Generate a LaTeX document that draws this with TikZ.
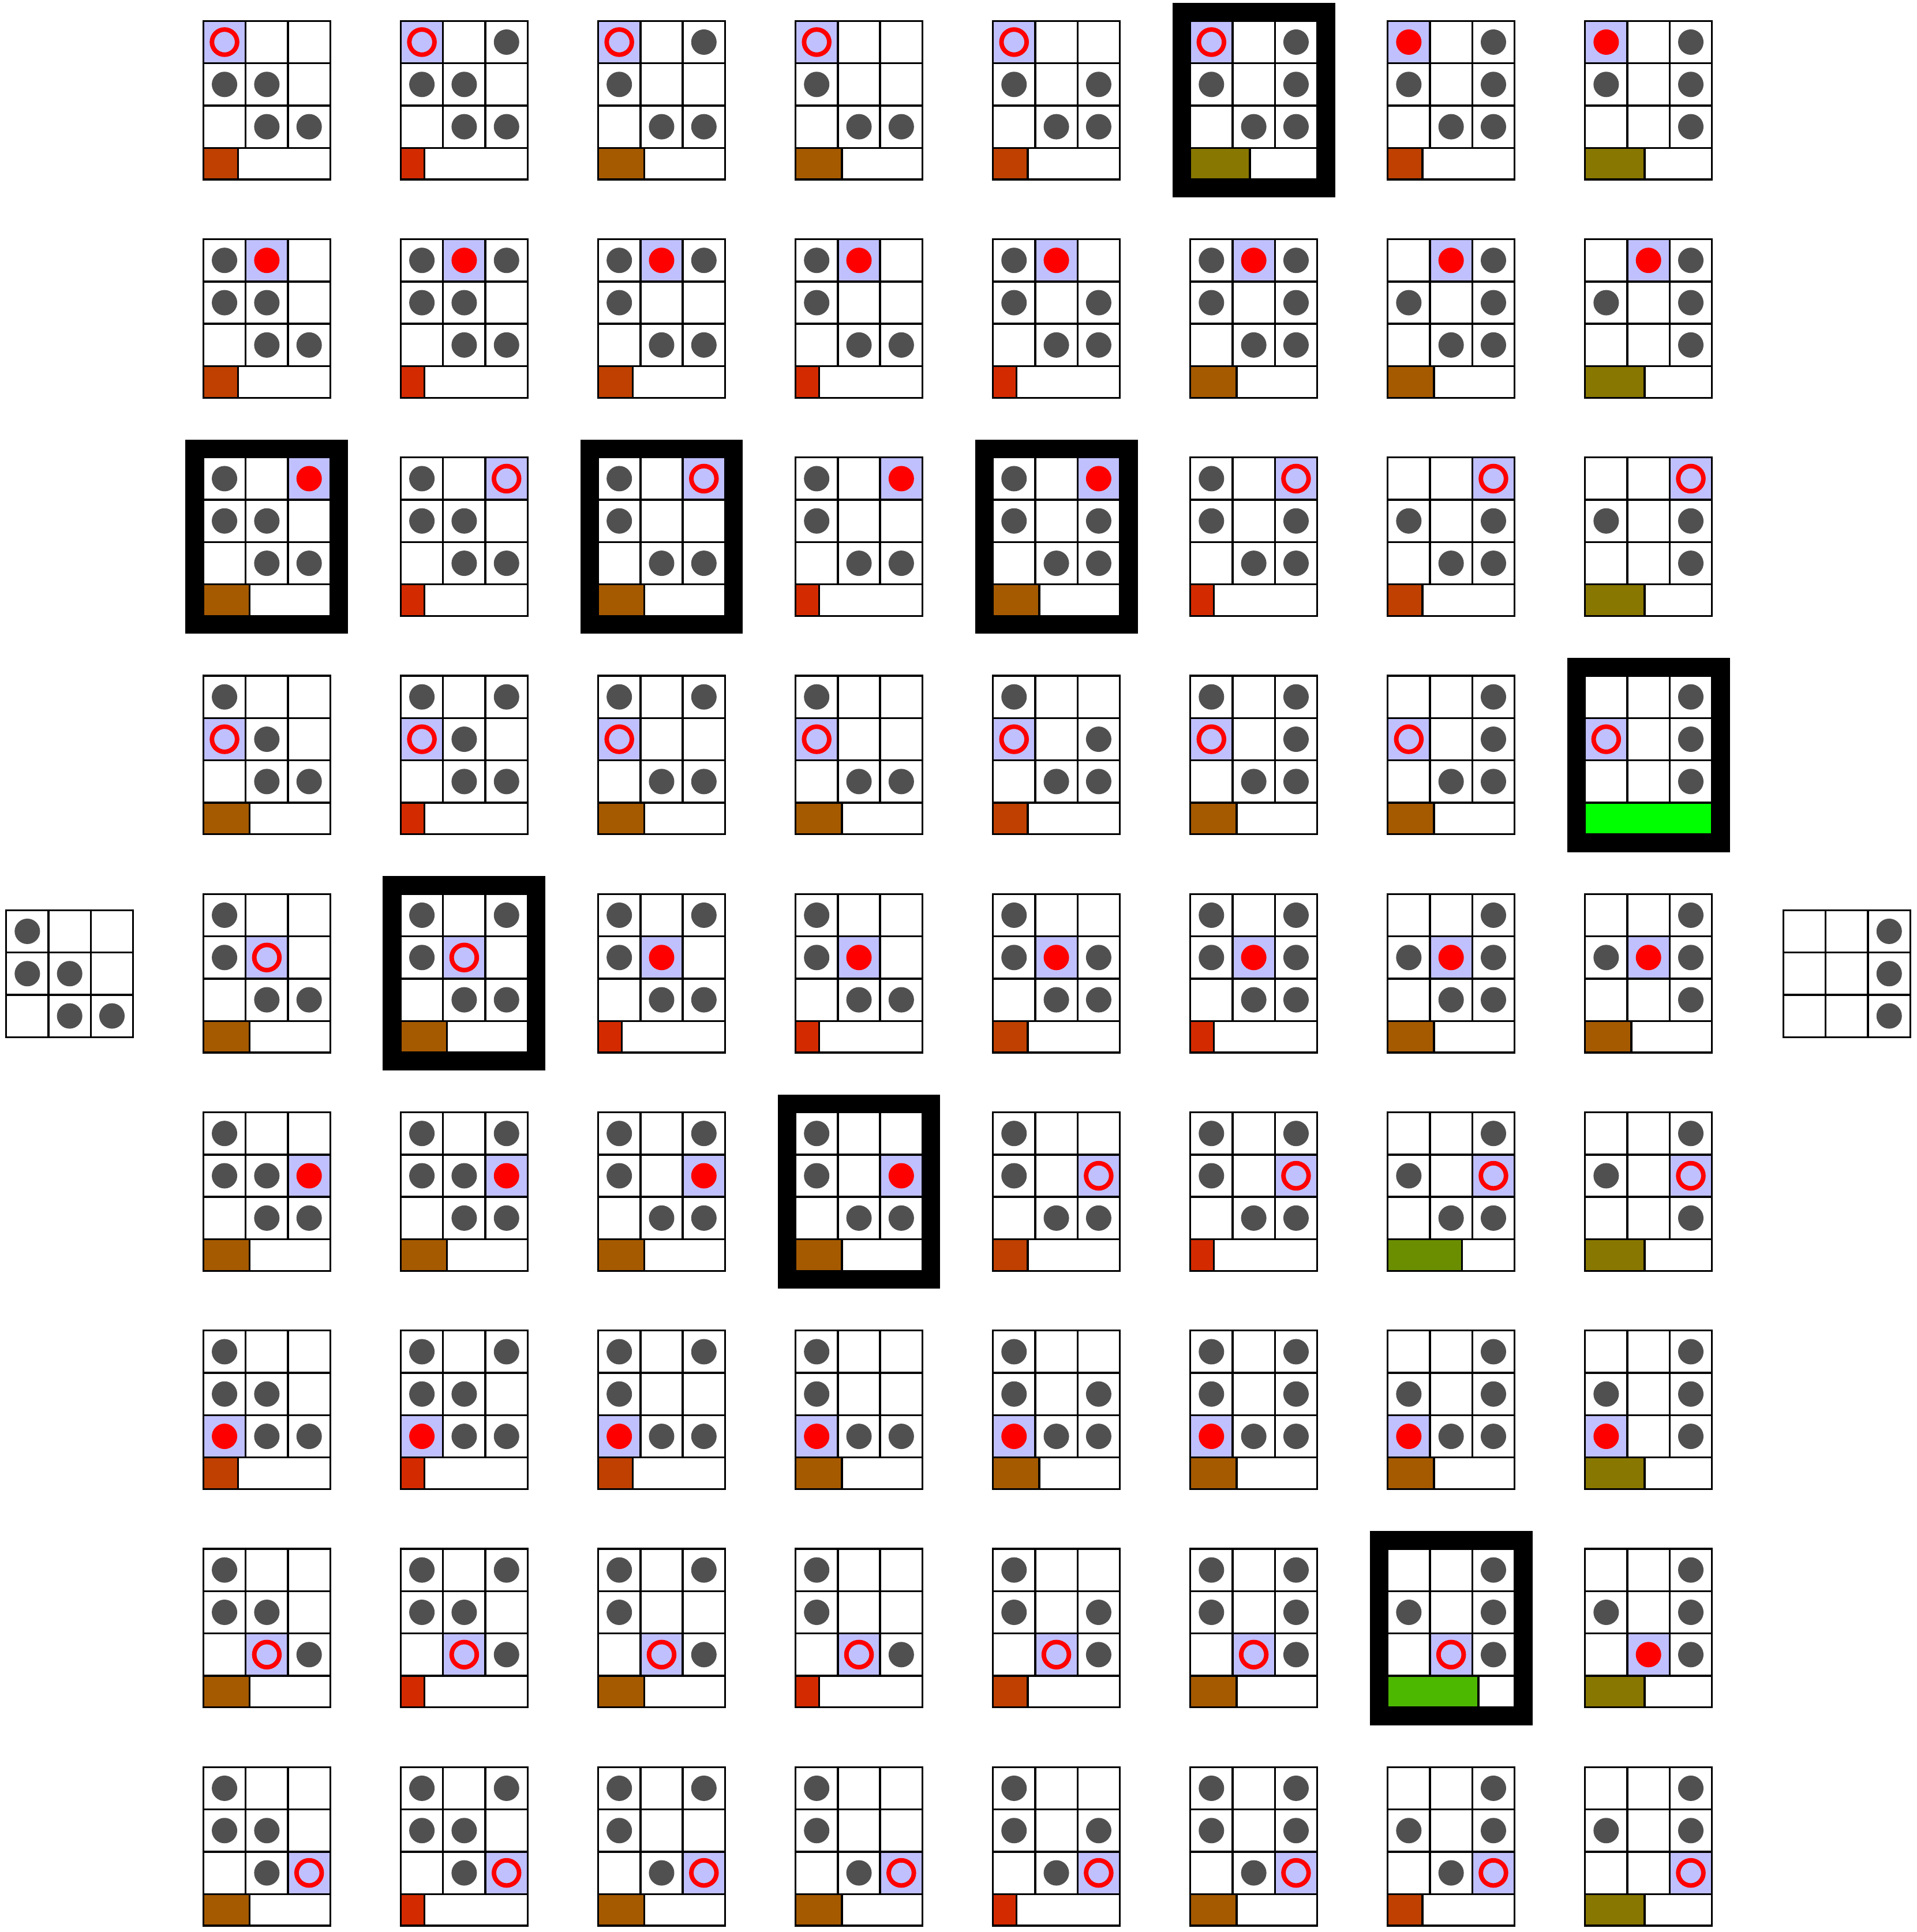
\documentclass[tikz,border=0pt]{standalone}
\usepackage{tikz}
\definecolor{cellhl}{HTML}{C0C0FF}
\definecolor{stone}{HTML}{505050}
\definecolor{lv1}{HTML}{D42A00}
\definecolor{lv2}{HTML}{BF4000}
\definecolor{lv3}{HTML}{A65A00}
\definecolor{lv4}{HTML}{887700}
\definecolor{lv5}{HTML}{6B8E00}
\definecolor{lv6}{HTML}{4CB800}
\definecolor{lv7}{HTML}{00FF00}
\newcommand{\drawboard}[6]{%
  \ifnum#6=1
    \fill[black] (#1-14.5,#2-14.5) rectangle (#1+117.5,#2+143.1);
  \fi
  \edef\cells{#3}
  \foreach \occ [count=\k from 0] in \cells {
    \pgfmathsetmacro\cx{#1+mod(\k,3)*34.33}
    \pgfmathsetmacro\cy{#2+floor(\k/3)*34.33}
    \ifnum\k=#4
      \fill[cellhl] (\cx,\cy) rectangle ++(34.33,34.33);
    \else
      \fill[white] (\cx,\cy) rectangle ++(34.33,34.33);
    \fi
    \draw[gridline] (\cx,\cy) rectangle ++(34.33,34.33);
    \ifnum\k=#4
      \ifnum\occ=1
        \draw[ring] (\cx+17.17,\cy+17.17) circle[radius=0.102cm];
      \else
        \fill[red] (\cx+17.17,\cy+17.17) circle[radius=0.103cm];
      \fi
    \else
      \ifnum\occ=1
        \fill[stone] (\cx+17.17,\cy+17.17) circle[radius=0.103cm];
      \fi
    \fi
  }
  \ifnum#5>0
    \pgfmathsetmacro\barf{{0,0.186,0.274,0.365,0.47,0.586,0.715,1}[#5]}
    \fill[white] (#1,#2+103) rectangle (#1+103,#2+128.6);
    \fill[lv#5] (#1,#2+103) rectangle (#1+103*\barf,#2+128.6);
    \draw[gridline] (#1,#2+103) rectangle (#1+103,#2+128.6)
      (#1+103*\barf,#2+103) -- (#1+103*\barf,#2+128.6);
  \fi
}

\begin{document}
\begin{tikzpicture}[
      x=0.01cm,y=-0.01cm,
      gridline/.style={draw=black,line width=0.45pt},
      ring/.style={draw=red,line width=1.05pt}
    ]
    \useasboundingbox (0,0) rectangle (1555,1567.6);
    % start and goal
    \drawboard{5}{738.5}{1,0,0,1,1,0,0,1,1}{-1}{0}{0}
    \drawboard{1447}{738.5}{0,0,1,0,0,1,0,0,1}{-1}{0}{0}
    % one column per position, one row per cell tried
    \foreach \cfg/\lvs [count=\colno from 0] in {
      {1,0,0,1,1,0,0,1,1}/{2/0,2/0,3/1,3/0,3/0,3/0,2/0,3/0,3/0},
      {1,0,1,1,1,0,0,1,1}/{1/0,1/0,1/0,1/0,3/1,3/0,1/0,1/0,1/0},
      {1,0,1,1,0,0,0,1,1}/{3/0,2/0,3/1,3/0,1/0,3/0,2/0,3/0,3/0},
      {1,0,0,1,0,0,0,1,1}/{3/0,1/0,1/0,3/0,1/0,3/1,3/0,1/0,3/0},
      {1,0,0,1,0,1,0,1,1}/{2/0,1/0,3/1,2/0,2/0,2/0,3/0,2/0,1/0},
      {1,0,1,1,0,1,0,1,1}/{4/1,3/0,1/0,3/0,1/0,1/0,3/0,3/0,3/0},
      {0,0,1,1,0,1,0,1,1}/{2/0,3/0,2/0,3/0,3/0,5/0,3/0,6/1,2/0},
      {0,0,1,1,0,1,0,0,1}/{4/0,4/0,4/0,7/1,3/0,4/0,4/0,4/0,4/0}}{
      \foreach \lv/\fr [count=\rowno from 0] in \lvs {
        \pgfmathsetmacro\bx{165+160.15*\colno}
        \pgfmathsetmacro\by{17+177.1*\rowno}
        \drawboard{\bx}{\by}{\cfg}{\rowno}{\lv}{\fr}
      }
    }
  \end{tikzpicture}
\end{document}
